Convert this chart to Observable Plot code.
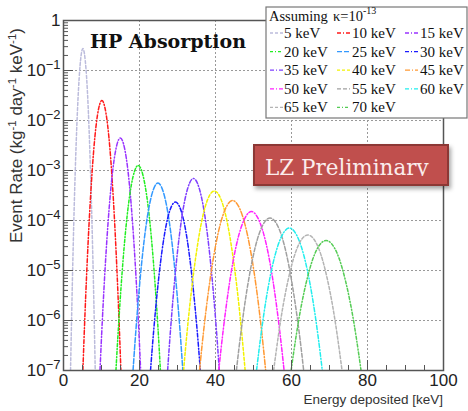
<!DOCTYPE html>
<html><head><meta charset="utf-8">
<script src="https://cdn.jsdelivr.net/npm/d3@7"></script>
<script src="https://cdn.jsdelivr.net/npm/@observablehq/plot@0.6"></script>
<style>
html,body{margin:0;padding:0;background:#fff;}
svg{display:block;}
</style></head><body><div id="chart"></div>
<script>
// ---- data ----
const masses = [5,10,15,20,25,30,35,40,45,50,55,60,65,70];
const seriesLabels = ["5 keV","10 keV","15 keV","20 keV","25 keV","30 keV","35 keV","40 keV","45 keV","50 keV","55 keV","60 keV","65 keV","70 keV"];
const seriesColors = ["#bcbcdc","#ff1a1a","#9933ff","#22ee22","#3399ff","#1a1aff","#7f3fff","#f2f200","#ff9933","#ff22ff","#a0a0a0","#22eeee","#b4b4b4","#55cc55"];
const seriesDashes = ["3,2","4,2,1,2","4,2,1,2","3,2,1,2","5,2","4,2,1,2","4,2,1,2","3,2","5,2,1,2","4,2,1,2","4,2","4,2,1,2","3,2","3,2,1,2"];

const E5  = [1.85,2.18,2.66,3.31,4.13,5.1,6.08,6.89,7.54,8.03,8.35];
const R5  = [1e-7,1.66e-6,6.6e-5,3.09e-3,7.24e-2,0.275,7.24e-2,3.09e-3,6.6e-5,1.66e-6,1e-7];
const E10 = [5.1,5.6,6.35,7.35,8.6,10.1,11.6,12.85,13.85,14.6,15.1];
const R10 = [1e-7,1.07e-6,2.29e-5,5.83e-4,8.2e-3,2.51e-2,8.2e-3,5.83e-4,2.29e-5,1.07e-6,1e-7];
const E15 = [9.6,10.14,10.94,12.01,13.35,14.95,16.56,17.89,18.96,19.77,20.3];
const R15 = [1e-7,7.59e-7,1.07e-5,1.74e-4,1.70e-3,4.47e-3,1.70e-3,1.74e-4,1.07e-5,7.59e-7,1e-7];
const E20 = [13.8,14.39,15.26,16.43,17.9,19.65,21.4,22.87,24.04,24.92,25.5];
const R20 = [1e-7,6.03e-7,6.17e-6,7.24e-5,5.37e-4,1.26e-3,5.37e-4,7.24e-5,6.17e-6,6.03e-7,1e-7];
const E25 = [18.3,18.96,19.94,21.25,22.89,24.85,26.82,28.45,29.76,30.75,31.4];
const R25 = [1e-7,5.13e-7,4.37e-6,4.17e-5,2.57e-4,5.62e-4,2.57e-4,4.17e-5,4.37e-6,5.13e-7,1e-7];
const E30 = [22.9,23.56,24.54,25.85,27.49,29.45,31.42,33.05,34.36,35.35,36.0];
const R30 = [1e-7,4.37e-7,2.95e-6,2.24e-5,1.17e-4,2.34e-4,1.17e-4,2.24e-5,2.95e-6,4.37e-7,1e-7];
const E35 = [27.4,28.08,29.1,30.46,32.16,34.2,36.24,37.94,39.3,40.32,41.0];
const R35 = [1e-7,5.37e-7,4.79e-6,4.79e-5,3.09e-4,6.92e-4,3.09e-4,4.79e-5,4.79e-6,5.37e-7,1e-7];
const E40 = [31.6,32.41,33.63,35.25,37.27,39.7,42.13,44.16,45.78,46.99,47.8];
const R40 = [1e-7,4.79e-7,3.72e-6,3.16e-5,1.86e-4,3.89e-4,1.86e-4,3.16e-5,3.72e-6,4.79e-7,1e-7];
const E45 = [35.8,36.67,37.98,39.72,41.89,44.5,47.11,49.29,51.03,52.33,53.2];
const R45 = [1e-7,4.47e-7,3.09e-6,2.34e-5,1.23e-4,2.51e-4,1.23e-4,2.34e-5,3.09e-6,4.47e-7,1e-7];
const E50 = [40.85,41.71,43.0,44.72,46.87,49.45,52.03,54.18,55.9,57.19,58.05];
const R50 = [1e-7,3.98e-7,2.45e-6,1.66e-5,7.76e-5,1.51e-4,7.76e-5,1.66e-5,2.45e-6,3.98e-7,1e-7];
const E55 = [45.5,46.39,47.71,49.48,51.7,54.35,57.0,59.22,60.99,62.32,63.2];
const R55 = [1e-7,3.80e-7,2.14e-6,1.35e-5,6.03e-5,1.12e-4,6.03e-5,1.35e-5,2.14e-6,3.80e-7,1e-7];
const E60 = [50.8,51.67,52.96,54.69,56.86,59.45,62.05,64.21,65.94,67.24,68.1];
const R60 = [1e-7,3.47e-7,1.78e-6,9.77e-6,3.89e-5,7.08e-5,3.89e-5,9.77e-6,1.78e-6,3.47e-7,1e-7];
const E65 = [55.3,56.2,57.55,59.35,61.6,64.3,67.0,69.25,71.05,72.4,73.3];
const R65 = [1e-7,3.24e-7,1.55e-6,7.76e-6,2.95e-5,5.13e-5,2.95e-5,7.76e-6,1.55e-6,3.24e-7,1e-7];
const E70 = [59.9,60.82,62.2,64.04,66.34,69.1,71.86,74.16,76.0,77.38,78.3];
const R70 = [1e-7,3.09e-7,1.38e-6,6.46e-6,2.34e-5,3.98e-5,2.34e-5,6.46e-6,1.38e-6,3.09e-7,1e-7];

const energies = [E5,E10,E15,E20,E25,E30,E35,E40,E45,E50,E55,E60,E65,E70];
const rates    = [R5,R10,R15,R20,R25,R30,R35,R40,R45,R50,R55,R60,R65,R70];

// ticks
const xMajor = [0,20,40,60,80,100];
const xMinor = [5,10,15,25,30,35,45,50,55,65,70,75,85,90,95];
const xGrid = [20,40,60,80];
const yMajor = [1e-7,1e-6,1e-5,1e-4,1e-3,1e-2,1e-1,1];
const yTickLabels = ["10|−7","10|−6","10|−5","10|−4","10|−3","10|−2","10|−1","1"];
const yGrid = [1e-6,1e-5,1e-4,1e-3,1e-2,1e-1];
const yMinor = [];
for (let d = -7; d < 0; d++) for (let k = 2; k <= 9; k++) yMinor.push(k * Math.pow(10, d));

const legendTitle = "Assuming";
const legendKappa = "κ=10";
const legendKappaExp = "-13";
const plotTitle = "HP Absorption";
const stampText = "LZ Preliminary";
const xTitle = "Energy deposited [keV]";

// ---- build ----
const series = masses.map((m, i) => ({
  m, color: seriesColors[i], dash: seriesDashes[i], label: seriesLabels[i],
  rows: energies[i].map((e, j) => ({e, r: rates[i][j]}))
}));

const yLabelOf = d => {
  let best = 0;
  yMajor.forEach((v, i) => { if (Math.abs(Math.log10(v) - Math.log10(d)) < 1e-6) best = i; });
  return yTickLabels[best];
};

const tickColor = "#555";
const svg = Plot.plot({
  width: 468, height: 411,
  marginLeft: 63, marginRight: 25, marginTop: 20, marginBottom: 41,
  style: {fontFamily: "'Liberation Sans', Arial, sans-serif", fontSize: "17px", color: "#222", background: "#fff"},
  x: {domain: [0, 100], label: null},
  y: {type: "log", domain: [1e-7, 1], label: null},
  marks: [
    Plot.gridX(xGrid, {stroke: "#999", strokeOpacity: 1, strokeDasharray: "2,2"}),
    Plot.gridY(yGrid, {stroke: "#999", strokeOpacity: 1, strokeDasharray: "2,2"}),
    ...series.map(s => Plot.line(s.rows, {x: "e", y: "r", stroke: s.color, strokeWidth: 1.5, strokeDasharray: s.dash, curve: "natural", clip: true})),
    Plot.axisX({ticks: xMajor, tickSize: -10, tickFormat: () => "", stroke: tickColor, label: null}),
    Plot.axisX({ticks: xMinor, tickSize: -5, tickFormat: () => "", stroke: tickColor, label: null}),
    Plot.axisX({ticks: xMajor, tickSize: 0, tickPadding: 3, tickFormat: d => String(d), label: null}),
    Plot.axisY({ticks: yMajor, tickSize: -10, tickFormat: () => "", stroke: tickColor, label: null}),
    Plot.axisY({ticks: yMinor, tickSize: -5, tickFormat: () => "", stroke: tickColor, label: null}),
    Plot.axisY({ticks: yMajor, tickSize: 0, tickPadding: 3, tickFormat: yLabelOf, label: null}),
    Plot.frame({stroke: "#555", strokeWidth: 1.5})
  ]
});
document.getElementById("chart").appendChild(svg);

const root = d3.select(svg);
// superscripts in y tick labels
root.selectAll("text").each(function() {
  const t = this.textContent;
  if (t && t.includes("|")) {
    const [b, e] = t.split("|");
    this.textContent = b;
    d3.select(this).append("tspan").attr("dy", -7).attr("font-size", 13).text(e);
  }
});

// y title
const sans = "'Liberation Sans', Arial, sans-serif";
const yt = root.append("text")
  .attr("transform", "translate(22,28) rotate(-90)")
  .attr("text-anchor", "end")
  .attr("font-family", sans)
  .attr("font-size", 17).attr("fill", "#333");
const ytParts = [["Event Rate (kg", 0], ["-1", 1], [" day", 0], ["-1", 1], [" keV", 0], ["-1", 1], [")", 0]];
ytParts.forEach(([txt, sup], i) => {
  const prevSup = i > 0 && ytParts[i-1][1];
  yt.append("tspan").attr("font-size", sup ? 11.5 : 17)
    .attr("dy", sup ? -6 : (prevSup ? 6 : 0)).text(txt);
});

// x title
root.append("text").attr("x", 443).attr("y", 404).attr("text-anchor", "end")
  .attr("font-family", sans).attr("font-size", 13.5).attr("fill", "#333")
  .text(xTitle);

// plot title
root.append("text").attr("x", 90).attr("y", 48).attr("text-anchor", "start")
  .attr("font-family", "'DejaVu Serif', serif").attr("font-weight", "bold").attr("font-size", 19).attr("fill", "#111")
  .text(plotTitle);

// stamp box
const defs = root.append("defs");
const f = defs.append("filter").attr("id", "shadow").attr("x", "-10%").attr("y", "-20%").attr("width", "130%").attr("height", "160%");
f.append("feDropShadow").attr("dx", 2).attr("dy", 3).attr("stdDeviation", 2).attr("flood-color", "#000").attr("flood-opacity", 0.35);
defs.append("clipPath").attr("id", "stampclip").append("rect").attr("x", 254).attr("y", 140).attr("width", 194).attr("height", 36);
root.append("rect").attr("x", 254).attr("y", 145).attr("width", 194).attr("height", 40)
  .attr("fill", "#c0504d").attr("stroke", "#8c3836").attr("stroke-width", 2).attr("filter", "url(#shadow)");
root.append("text").attr("x", 265).attr("y", 175).attr("text-anchor", "start").attr("clip-path", "url(#stampclip)")
  .attr("font-family", "'DejaVu Serif', serif").attr("font-size", 21.5).attr("fill", "#fbecec")
  .text(stampText);

// legend
const lg = root.append("g").attr("text-anchor", "start");
lg.append("rect").attr("x", 266).attr("y", 7).attr("width", 201).attr("height", 111)
  .attr("fill", "#fff").attr("stroke", "#777").attr("stroke-width", 1.2);
const serifFont = "'Liberation Serif', 'Times New Roman', serif";
lg.append("text").attr("x", 269).attr("y", 21).attr("font-family", serifFont).attr("font-size", 14.5).attr("fill", "#111").text(legendTitle);
const kt = lg.append("text").attr("x", 333).attr("y", 21).attr("font-family", serifFont).attr("font-size", 14.5).attr("fill", "#111");
kt.append("tspan").text(legendKappa);
kt.append("tspan").attr("dy", -7).attr("font-size", 10).text(legendKappaExp);
const colX = [270, 337, 405], textX = [284, 352, 420];
const rowY = [38, 56.6, 75.2, 93.8, 112.4];
series.forEach((s, i) => {
  const c = i % 3, r = Math.floor(i / 3);
  lg.append("line").attr("x1", colX[c]).attr("x2", colX[c] + 13).attr("y1", rowY[r] - 5).attr("y2", rowY[r] - 5)
    .attr("stroke", s.color).attr("stroke-width", 1.3).attr("stroke-dasharray", s.dash);
  lg.append("text").attr("x", textX[c]).attr("y", rowY[r]).attr("font-family", serifFont).attr("font-size", 15).attr("fill", "#111").text(s.label);
});
</script>
</body></html>
